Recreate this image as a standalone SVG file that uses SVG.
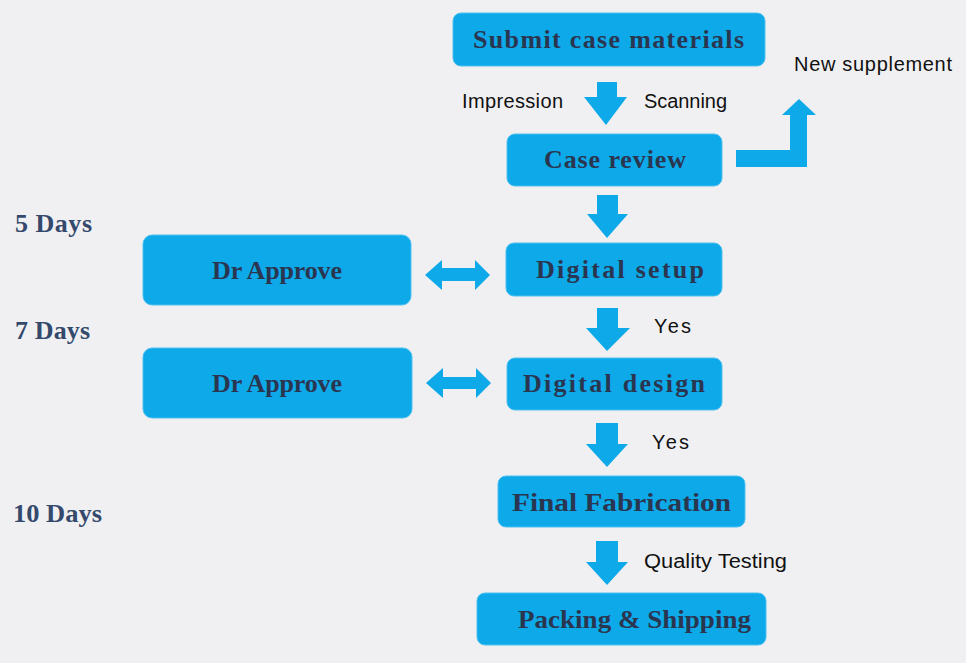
<svg xmlns="http://www.w3.org/2000/svg" width="966" height="663" viewBox="0 0 966 663">
<style>
.box{fill:#0ea9e9;stroke:#4cc0f0;stroke-width:1}
.bt{font-family:"Liberation Serif","Times New Roman",serif;font-weight:bold;font-size:26px;fill:#2a3650}
.day{font-family:"Liberation Serif","Times New Roman",serif;font-weight:bold;font-size:26px;fill:#34496b}
.lbl{font-family:"Liberation Sans",Arial,sans-serif;font-size:20px;fill:#111}
.arr{fill:#0ea9e9}
</style>
<rect width="966" height="663" fill="#f0f0f2"/>
<g id="connectors">
<polygon class="arr" points="597,82 617,82 617,97 627,97 606,125 584,97 597,97"/>
<polygon class="arr" points="597,195 618,195 618,214 628,214 607,238 587,214 597,214"/>
<polygon class="arr" points="597,308 618,308 618,328 630,328 607,351 586,328 597,328"/>
<polygon class="arr" points="596,423 618,423 618,444 628,444 607,467 586,444 596,444"/>
<polygon class="arr" points="596,541 618,541 618,562 628,562 607,585 586,562 596,562"/>
<polygon class="arr" points="736,150 790,150 790,115 782,115 799,99 816,115 807,115 807,167 736,167"/>
<polygon class="arr" points="425,275 442,260 442,268 475,268 475,260 490,275 475,290 475,281 442,281 442,290"/>
<polygon class="arr" points="426,383 443,368 443,377 476,377 476,368 491,383 476,398 476,389 443,389 443,398"/>
</g>
<g id="submit"><rect class="box" x="453" y="13" width="312" height="53" rx="8"/><text class="bt" x="473" y="48" textLength="271" lengthAdjust="spacing">Submit case materials</text></g>
<g id="review"><rect class="box" x="507" y="134" width="215" height="52" rx="8"/><text class="bt" x="544" y="168" textLength="142" lengthAdjust="spacing">Case review</text></g>
<g id="setup"><rect class="box" x="506" y="243" width="216" height="53" rx="8"/><text class="bt" x="536" y="278" textLength="168" lengthAdjust="spacing">Digital setup</text></g>
<g id="design"><rect class="box" x="507" y="358" width="215" height="52" rx="8"/><text class="bt" x="523" y="392" textLength="182" lengthAdjust="spacing">Digital design</text></g>
<g id="fabrication"><rect class="box" x="498" y="476" width="247" height="51" rx="8"/><text class="bt" x="512" y="511" textLength="219" lengthAdjust="spacingAndGlyphs">Final Fabrication</text></g>
<g id="packing"><rect class="box" x="477" y="593" width="289" height="52" rx="8"/><text class="bt" x="518" y="628" textLength="233" lengthAdjust="spacingAndGlyphs">Packing &amp; Shipping</text></g>
<g id="approve1"><rect class="box" x="143" y="235" width="268" height="70" rx="9"/><text class="bt" x="212" y="279" textLength="130" lengthAdjust="spacing">Dr Approve</text></g>
<g id="approve2"><rect class="box" x="143" y="348" width="269" height="70" rx="9"/><text class="bt" x="212" y="392" textLength="130" lengthAdjust="spacing">Dr Approve</text></g>
<g id="labels">
<text class="lbl" x="462" y="108" textLength="101">Impression</text>
<text class="lbl" x="644" y="108" textLength="83">Scanning</text>
<text class="lbl" x="794" y="71" textLength="158">New supplement</text>
<text class="lbl" x="654" y="333" textLength="37">Yes</text>
<text class="lbl" x="652" y="449" textLength="37">Yes</text>
<text class="lbl" x="644" y="568" textLength="143" lengthAdjust="spacingAndGlyphs">Quality Testing</text>
<text class="day" x="15" y="232" textLength="77" lengthAdjust="spacing">5 Days</text>
<text class="day" x="15" y="339" textLength="75" lengthAdjust="spacing">7 Days</text>
<text class="day" x="13" y="522" textLength="89" lengthAdjust="spacingAndGlyphs">10 Days</text>
</g>
</svg>
